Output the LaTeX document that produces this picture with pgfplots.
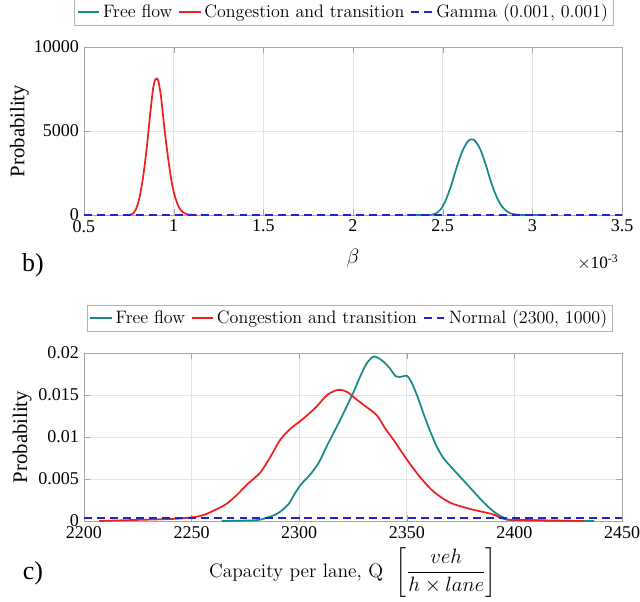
\documentclass[border=0pt]{standalone}
\usepackage{amsmath}
\usepackage{pgfplots}
\pgfplotsset{compat=1.18}
\usepackage{fontspec}
\newfontfamily\tnr{Liberation Serif}
\definecolor{tealc}{RGB}{22,138,138}
\definecolor{redc}{RGB}{240,30,30}
\definecolor{bluec}{RGB}{35,35,205}
\newcommand{\lmtext}{\fontsize{12.5}{15}\selectfont}
\pgfplotsset{
  mystyle/.style={
    width=373.6pt, height=116.7pt, scale only axis,
    scaled x ticks=false, scaled y ticks=false,
    grid=major, grid style={gray!22, line width=0.6pt},
    axis line style={gray!70}, tick style={gray!70},
    tick align=inside,
    ticklabel style={font=\tnr\fontsize{12.5}{14}\selectfont},
    legend columns=3,
    legend style={draw=gray!60, font=\lmtext, inner sep=1.5pt,
      /tikz/every even column/.append style={column sep=2pt}},
    ylabel={Probability},
    ylabel style={font=\tnr\fontsize{14.4}{16}\selectfont, anchor=center},
    xlabel style={font=\fontsize{13.5}{16}\selectfont, anchor=center},
  },
}
\begin{document}
\begin{tikzpicture}
% ---------------- top panel (b) ----------------
\begin{axis}[mystyle, name=top, at={(0pt,212.5pt)}, anchor=south west,
  xmin=0.5, xmax=3.5, ymin=0, ymax=10000,
  xtick={0.5,1,1.5,2,2.5,3,3.5}, xticklabels={0.5,1,1.5,2,2.5,3,3.5},
  ytick={0,5000,10000}, yticklabels={0,5000,10000},
  xlabel={$\beta$},
  xlabel style={at={(axis description cs:0.5,-0.257)}},
  ylabel style={at={(axis description cs:-0.12,0.5)}},
  legend image code/.code={\draw[#1,mark=none] (0pt,0pt) -- (15pt,0pt);},
  legend style={at={(0.483,1)}, anchor=south, yshift=15pt},
  clip=false]
\addplot[color=tealc, line width=1.2pt, smooth, tension=0.5] coordinates {
(2.30,0) (2.40,0) (2.43,5) (2.46,80) (2.49,350) (2.52,950) (2.55,1850) (2.58,2900)
(2.61,3800) (2.64,4380) (2.66,4500) (2.68,4420) (2.71,3900) (2.74,3000)
(2.77,1950) (2.80,1100) (2.83,520) (2.86,200) (2.89,60) (2.93,10) (2.98,0) (3.03,0)};
\addlegendentry{Free flow}
\addplot[color=redc, line width=1.2pt, smooth, tension=0.5] coordinates {
(0.72,0) (0.75,5) (0.77,60) (0.79,350) (0.81,1050) (0.83,2300) (0.85,4000)
(0.87,6100) (0.885,7500) (0.897,8050) (0.906,8120) (0.915,7950) (0.93,7000) (0.95,5000)
(0.97,3300) (0.99,1900) (1.01,1000) (1.03,450) (1.05,180) (1.07,60) (1.09,15) (1.13,0)};
\addlegendentry{Congestion and transition}
\addplot[color=bluec, line width=1.2pt, dash pattern=on 5.5pt off 3.5pt] coordinates {(0.5,1) (1.0,1) (1.5,1) (2.0,1) (2.5,1) (3.0,1) (3.5,1)};
\addlegendentry{Gamma (0.001, 0.001)}
\node[font=\tnr\fontsize{18}{20}\selectfont] at (rel axis cs:-0.095,-0.30) {b)};
\node[font=\tnr\fontsize{12}{14}\selectfont] at (rel axis cs:0.955,-0.28) {$\times$10\textsuperscript{-3}};
\end{axis}
% ---------------- bottom panel (c) ----------------
\begin{axis}[mystyle, name=bot, at={(0pt,0pt)}, anchor=south west,
  xmin=2200, xmax=2450, ymin=0, ymax=0.02,
  xtick={2200,2250,2300,2350,2400,2450}, xticklabels={2200,2250,2300,2350,2400,2450},
  ytick={0,0.005,0.01,0.015,0.02}, yticklabels={0,0.005,0.01,0.015,0.02},
  xlabel={Capacity per lane, Q\ \ $\left[\dfrac{veh}{h\times lane}\right]$},
  xlabel style={at={(axis description cs:0.5,-0.305)}},
  ylabel style={at={(axis description cs:-0.115,0.5)}},
  legend image code/.code={\draw[#1,mark=none] (0pt,0pt) -- (15pt,0pt);},
  legend style={at={(0.494,1)}, anchor=south, yshift=15pt},
  clip=false]
\addplot[color=tealc, line width=1.2pt, smooth, tension=0.5] coordinates {
(2264,0) (2280,0.0001) (2285,0.0004) (2290,0.0009) (2295,0.002) (2298,0.0033)
(2301,0.0044) (2305,0.0055) (2309,0.0069) (2313,0.0090) (2316,0.0105) (2319,0.012)
(2322,0.0136) (2325,0.0152) (2328,0.017) (2331,0.0186) (2334,0.0195) (2336,0.0195)
(2339,0.019) (2342,0.0182) (2345,0.0172) (2348,0.0172) (2350,0.0173) (2352,0.0166)
(2355,0.0148) (2358,0.0126) (2361,0.0106) (2364,0.0088) (2367,0.0075) (2370,0.0066)
(2375,0.0052) (2380,0.0038) (2385,0.0024) (2390,0.0012) (2395,0.0004) (2400,0.0001) (2437,0)};
\addlegendentry{Free flow}
\addplot[color=redc, line width=1.2pt, smooth, tension=0.5] coordinates {
(2207,0) (2220,0.0001) (2235,0.0002) (2245,0.0003) (2254,0.0006) (2260,0.0012)
(2266,0.002) (2271,0.0031) (2276,0.0044) (2282,0.0058) (2287,0.0078) (2291,0.0096)
(2296,0.011) (2302,0.0122) (2308,0.0136) (2313,0.015) (2318,0.0156) (2322,0.0154)
(2326,0.0146) (2330,0.0138) (2336,0.0126) (2340,0.011) (2344,0.0096) (2349,0.0077)
(2355,0.0056) (2362,0.0036) (2370,0.0022) (2380,0.0014) (2390,0.0008) (2396,0.0002)
(2410,0.0001) (2432,0)};
\addlegendentry{Congestion and transition}
\addplot[color=bluec, line width=1.2pt, dash pattern=on 5.5pt off 3.5pt] coordinates {(2200,0.0004) (2250,0.0004) (2300,0.0004) (2350,0.0004) (2400,0.0004) (2450,0.0004)};
\addlegendentry{Normal (2300, 1000)}
\node[font=\tnr\fontsize{18}{20}\selectfont] at (rel axis cs:-0.095,-0.31) {c)};
\end{axis}
\pgfresetboundingbox
\path[use as bounding box] (-58.33pt,-55.56pt) rectangle (386.1pt,361.8pt);
\end{tikzpicture}
\end{document}
